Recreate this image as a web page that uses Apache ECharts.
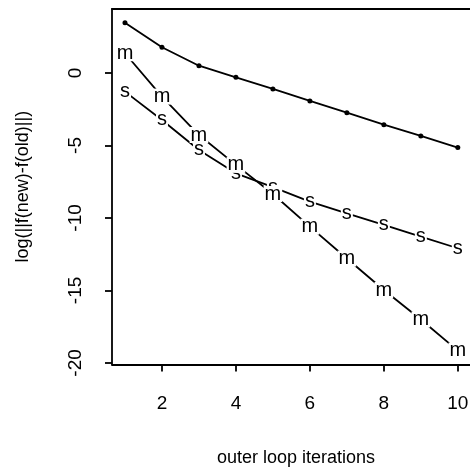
<!DOCTYPE html>
<html>
<head>
<meta charset="utf-8">
<script src="https://cdn.jsdelivr.net/npm/echarts@6/dist/echarts.min.js"></script>
<style>html,body{margin:0;padding:0;background:#fff}#c{width:470px;height:468px}</style>
</head>
<body>
<div id="c"></div>
<script>
const iterations = [1, 2, 3, 4, 5, 6, 7, 8, 9, 10];
const dotSeries = [3.47, 1.77, 0.50, -0.30, -1.10, -1.93, -2.74, -3.57, -4.34, -5.15];
const mSeries = [1.36, -1.63, -4.28, -6.34, -8.35, -10.6, -12.8, -14.97, -17.0, -19.15];
const sSeries = [-1.29, -3.24, -5.31, -6.92, -7.88, -8.87, -9.68, -10.48, -11.29, -12.09];
const xTicks = [2, 4, 6, 8, 10];
const yTicks = [-20, -15, -10, -5, 0];
const xTitle = 'outer loop iterations';
const yTitle = 'log(||f(new)-f(old)||)';

const font = 'Liberation Sans, Arial, Helvetica, sans-serif';
const pairs = arr => iterations.map((x, i) => [x, arr[i]]);
const LW = 1.8;

function letterSeries(name, data, ch) {
  return {
    name, type: 'line', data: pairs(data),
    symbol: 'circle', symbolSize: 2,
    itemStyle: { color: '#fff' },
    lineStyle: { color: '#000', width: LW },
    label: {
      show: true, position: 'inside', formatter: ch,
      color: '#000', fontFamily: font, fontSize: 20,
      backgroundColor: '#fff', padding: [0, 1, 0, 1], lineHeight: 16
    },
    emphasis: { disabled: true }, silent: true, z: 3
  };
}

const chart = echarts.init(document.getElementById('c'), null, { renderer: 'canvas' });
chart.setOption({
  animation: false,
  backgroundColor: '#fff',
  grid: { left: 112, top: 9, right: -10, bottom: 103.6, containLabel: false, outerBoundsMode: 'none' },
  xAxis: [{
    type: 'value', min: 0.649, max: 10.6,
    axisLine: { show: true, onZero: false, lineStyle: { color: '#000', width: LW } },
    axisTick: { show: true, length: 7, customValues: xTicks, lineStyle: { color: '#000', width: LW } },
    axisLabel: { show: true, customValues: xTicks, color: '#000', fontFamily: font, fontSize: 19, margin: 30 },
    splitLine: { show: false },
    name: xTitle, nameLocation: 'middle', nameGap: 85,
    nameTextStyle: { color: '#000', fontFamily: font, fontSize: 18 }
  }, {
    type: 'value', position: 'top', min: 0.649, max: 10.6,
    axisLine: { show: true, onZero: false, lineStyle: { color: '#000', width: LW } },
    axisTick: { show: false }, axisLabel: { show: false }, splitLine: { show: false }
  }],
  yAxis: {
    type: 'value', min: -20.1, max: 4.41,
    axisLine: { show: true, onZero: false, lineStyle: { color: '#000', width: LW } },
    axisTick: { show: true, length: 7, customValues: yTicks, lineStyle: { color: '#000', width: LW } },
    axisLabel: { show: true, customValues: yTicks, rotate: 90, color: '#000', fontFamily: font, fontSize: 19, margin: 27 },
    splitLine: { show: false },
    name: yTitle, nameLocation: 'middle', nameGap: 80,
    nameTextStyle: { color: '#000', fontFamily: font, fontSize: 18 }
  },
  series: [
    {
      name: 'dots', type: 'line', data: pairs(dotSeries),
      symbol: 'circle', symbolSize: 5,
      itemStyle: { color: '#000' },
      lineStyle: { color: '#000', width: LW },
      emphasis: { disabled: true }, silent: true
    },
    letterSeries('s', sSeries, 's'),
    letterSeries('m', mSeries, 'm')
  ]
});
</script>
</body>
</html>
